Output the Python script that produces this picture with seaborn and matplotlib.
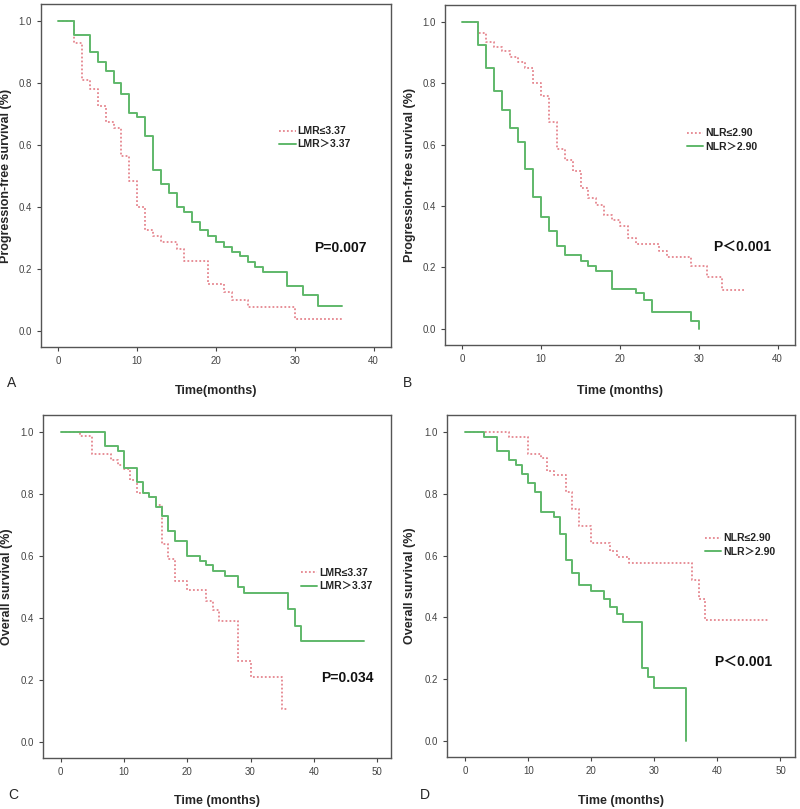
import matplotlib
matplotlib.use("Agg")
import matplotlib.pyplot as plt
import seaborn as sns
import pandas as pd
from matplotlib.lines import Line2D

# Kaplan-Meier step data: event times (months) and survival after each step
# A: PFS by LMR
a_low_t = [0, 2, 3, 4, 5, 6, 7, 8, 9, 10, 11, 12, 13, 15, 16, 19, 21, 22, 24, 30, 36]
a_low_s = [1.0, 0.93, 0.81, 0.78, 0.725, 0.675, 0.655, 0.565, 0.485, 0.40, 0.325, 0.305,
           0.285, 0.265, 0.225, 0.15, 0.125, 0.10, 0.075, 0.038, 0.038]
a_high_t = [0, 2, 4, 5, 6, 7, 8, 9, 10, 11, 12, 13, 14, 15, 16, 17, 18, 19, 20, 21, 22,
            23, 24, 25, 26, 29, 31, 33, 36]
a_high_s = [1.0, 0.955, 0.90, 0.87, 0.84, 0.80, 0.765, 0.705, 0.69, 0.63, 0.52, 0.475,
            0.445, 0.40, 0.385, 0.352, 0.325, 0.306, 0.288, 0.27, 0.255, 0.24, 0.223,
            0.207, 0.19, 0.144, 0.115, 0.078, 0.078]

# B: PFS by NLR
b_low_t = [0, 2, 3, 4, 5, 6, 7, 8, 9, 10, 11, 12, 13, 14, 15, 16, 17, 18, 19, 20, 21,
           22, 25, 26, 29, 31, 33, 36]
b_low_s = [1.0, 0.965, 0.935, 0.92, 0.905, 0.885, 0.87, 0.85, 0.80, 0.76, 0.675, 0.585,
           0.55, 0.515, 0.46, 0.425, 0.405, 0.37, 0.355, 0.335, 0.295, 0.275, 0.255,
           0.235, 0.205, 0.17, 0.127, 0.127]
b_high_t = [0, 2, 3, 4, 5, 6, 7, 8, 9, 10, 11, 12, 13, 15, 16, 17, 19, 22, 23, 24, 29, 30]
b_high_s = [1.0, 0.925, 0.85, 0.775, 0.715, 0.655, 0.61, 0.52, 0.43, 0.365, 0.32, 0.27,
            0.24, 0.22, 0.205, 0.19, 0.13, 0.115, 0.095, 0.055, 0.025, 0.0]

# C: OS by LMR
c_low_t = [0, 3, 5, 8, 9, 10, 11, 12, 14, 15, 16, 17, 18, 20, 23, 24, 25, 28, 30, 35, 36]
c_low_s = [1.0, 0.988, 0.93, 0.91, 0.895, 0.88, 0.845, 0.805, 0.79, 0.765, 0.64, 0.59,
           0.52, 0.49, 0.455, 0.425, 0.39, 0.26, 0.21, 0.105, 0.105]
c_high_t = [0, 7, 9, 10, 12, 13, 14, 15, 16, 17, 18, 20, 22, 23, 24, 26, 28, 29, 36, 37, 38, 48]
c_high_s = [1.0, 0.955, 0.94, 0.885, 0.84, 0.805, 0.79, 0.76, 0.73, 0.68, 0.65, 0.60,
            0.585, 0.57, 0.55, 0.535, 0.50, 0.48, 0.43, 0.375, 0.325, 0.325]

# D: OS by NLR
d_low_t = [0, 7, 10, 12, 13, 14, 16, 17, 18, 20, 23, 24, 26, 36, 37, 38, 48]
d_low_s = [1.0, 0.985, 0.93, 0.915, 0.875, 0.86, 0.805, 0.75, 0.695, 0.64, 0.615,
           0.595, 0.575, 0.52, 0.46, 0.39, 0.39]
d_high_t = [0, 3, 5, 7, 8, 9, 10, 11, 12, 14, 15, 16, 17, 18, 20, 22, 23, 24, 25, 28,
            29, 30, 35]
d_high_s = [1.0, 0.985, 0.94, 0.91, 0.895, 0.865, 0.835, 0.805, 0.74, 0.725, 0.67,
            0.585, 0.545, 0.505, 0.485, 0.46, 0.435, 0.41, 0.385, 0.235, 0.205, 0.17, 0.0]

panel_letters = ["A", "B", "C", "D"]
xlabels = ["Time(months)", "Time (months)", "Time (months)", "Time (months)"]
ylabels = ["Progression-free survival (%)", "Progression-free survival (%)",
           "Overall survival (%)", "Overall survival (%)"]
legend_labels = [["LMR≤3.37", "LMR＞3.37"], ["NLR≤2.90", "NLR＞2.90"],
                 ["LMR≤3.37", "LMR＞3.37"], ["NLR≤2.90", "NLR＞2.90"]]
p_texts = ["P=0.007", "P＜0.001", "P=0.034", "P＜0.001"]
xmax_ticks = [40, 40, 50, 50]

RED = "#e5868f"
GREEN = "#5fb86a"

sns.set_style("white")
plt.rcParams["font.family"] = ["Liberation Sans", "Noto Sans CJK SC", "DejaVu Sans"]

fig = plt.figure(figsize=(8, 8.09), dpi=100)
W, H = 800, 809
# axes boxes in pixels: left, top, right, bottom
boxes = [(41, 4, 391, 347), (445, 5, 795, 345), (43, 415, 391, 758), (447, 415, 795, 757)]
xlims = [(-2.2, 42.2), (-2.2, 42.2), (-2.8, 52.2), (-2.9, 52.3)]
legend_pos = [(0.68, 0.61), (0.69, 0.603), (0.74, 0.52), (0.74, 0.62)]
p_pos = [(0.854, 0.289), (0.85, 0.288), (0.874, 0.233), (0.85, 0.278)]
ylabel_x = [12, 416, 13, 416]
xlabel_y = [385, 385, 795, 795]
letter_pos = [(12, 383), (407, 383), (13, 795), (425, 795)]

data = [(a_low_t, a_low_s, a_high_t, a_high_s),
        (b_low_t, b_low_s, b_high_t, b_high_s),
        (c_low_t, c_low_s, c_high_t, c_high_s),
        (d_low_t, d_low_s, d_high_t, d_high_s)]

for i, (lt, ls, ht, hs) in enumerate(data):
    l, t, r, b = boxes[i]
    ax = fig.add_axes([l / W, 1 - b / H, (r - l) / W, (b - t) / H])
    low = pd.DataFrame({"time": lt, "surv": ls})
    high = pd.DataFrame({"time": ht, "surv": hs})
    sns.lineplot(data=low, x="time", y="surv", drawstyle="steps-post", color=RED,
                 linestyle=(0, (1, 1.2)), linewidth=1.3, ax=ax)
    sns.lineplot(data=high, x="time", y="surv", drawstyle="steps-post", color=GREEN,
                 linewidth=1.4, ax=ax)
    ax.set_xlim(*xlims[i])
    ax.set_ylim(-0.053, 1.056)
    ax.set_xticks(range(0, xmax_ticks[i] + 1, 10))
    ax.set_yticks([0.0, 0.2, 0.4, 0.6, 0.8, 1.0])
    ax.set_yticklabels(["0.0", "0.2", "0.4", "0.6", "0.8", "1.0"])
    ax.tick_params(axis="both", labelsize=7, colors="#444444", length=3, width=0.8,
                   direction="out", bottom=True, left=True)
    for sp in ax.spines.values():
        sp.set_color("#555555")
        sp.set_linewidth(1.0)
    ax.set_xlabel(xlabels[i], fontsize=9, fontweight="bold")
    ax.set_ylabel(ylabels[i], fontsize=9, fontweight="bold")
    ax.xaxis.set_label_coords(0.5, (b - xlabel_y[i]) / (b - t))
    ax.yaxis.set_label_coords((ylabel_x[i] - l) / (r - l), 0.5)
    handles = [Line2D([0], [0], color=RED, linestyle=(0, (1, 1.2)), linewidth=1.3),
               Line2D([0], [0], color=GREEN, linewidth=1.4)]
    leg = ax.legend(handles, legend_labels[i], loc="center left",
                    bbox_to_anchor=legend_pos[i], frameon=False, handlelength=1.6,
                    handletextpad=0.2, labelspacing=0.3, borderpad=0, borderaxespad=0,
                    prop={"size": 7.5, "weight": "bold"})
    for txt in leg.get_texts():
        txt.set_color("#222222")
    ax.text(p_pos[i][0], p_pos[i][1], p_texts[i], transform=ax.transAxes,
            ha="center", va="center", fontsize=10, fontweight="bold", color="#111111")
    fig.text(letter_pos[i][0] / W, 1 - letter_pos[i][1] / H, panel_letters[i],
             fontsize=10, ha="center", va="center")

fig.savefig("out.png", dpi=100, facecolor="white")
